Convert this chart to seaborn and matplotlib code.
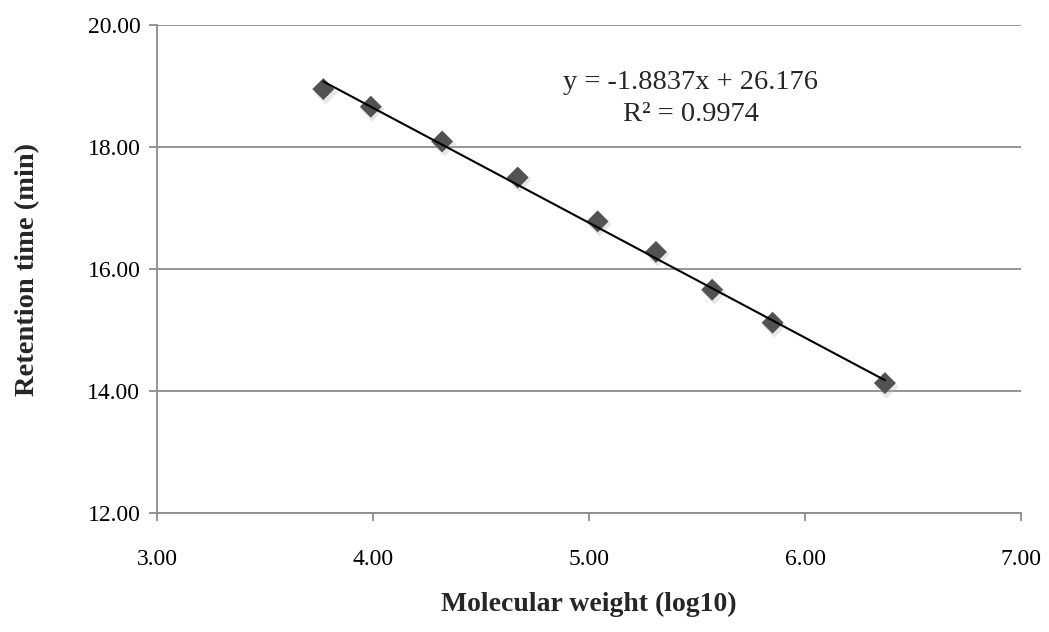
import numpy as np
import pandas as pd
import matplotlib
matplotlib.use("Agg")
import matplotlib.pyplot as plt
import matplotlib.transforms as mtransforms
import seaborn as sns

# Data
mw_log10 = [3.77, 3.99, 4.32, 4.67, 5.04, 5.31, 5.57, 5.85, 6.37]
retention_min = [18.95, 18.66, 18.09, 17.50, 16.78, 16.28, 15.66, 15.12, 14.13]
slope = -1.8837
intercept = 26.176
r_squared = 0.9974
x_ticks = [3.00, 4.00, 5.00, 6.00, 7.00]
y_ticks = [12.00, 14.00, 16.00, 18.00, 20.00]

df = pd.DataFrame({"x": mw_log10, "y": retention_min})
x_fit = np.array([min(mw_log10), max(mw_log10)])
fit_df = pd.DataFrame({"x": x_fit, "y": slope * x_fit + intercept})

sns.set_theme(style="white")
plt.rcParams["font.family"] = ["Liberation Serif", "DejaVu Serif"]

fig = plt.figure(figsize=(10.49, 6.32), dpi=100)
ax = fig.add_axes([157 / 1049, 1 - 513 / 632, (1021 - 157) / 1049, (513 - 25) / 632])

grid_c = "#8c8c8c"
ax.set_xlim(3, 7)
ax.set_ylim(12, 20)
ax.set_xticks(x_ticks)
ax.set_yticks(y_ticks)
ax.set_xticklabels([f"{v:.2f}" for v in x_ticks], fontsize=17)
ax.set_yticklabels([f"{v:.2f}" for v in y_ticks], fontsize=17)
ax.yaxis.grid(True, color=grid_c, linewidth=1.3)
ax.xaxis.grid(False)
ax.set_axisbelow(True)
for side in ["top", "right"]:
    ax.spines[side].set_visible(False)
for side in ["left", "bottom"]:
    ax.spines[side].set_color(grid_c)
    ax.spines[side].set_linewidth(1.3)
ax.tick_params(axis="both", which="major", direction="out", length=6, width=1.3,
               color=grid_c, labelcolor="black", bottom=True, left=True)
ax.tick_params(axis="x", pad=20)
ax.tick_params(axis="y", pad=6)

# soft shadow of markers
shadow = mtransforms.offset_copy(ax.transData, fig=fig, x=1.5, y=-2.5, units="dots")
ax.scatter(df["x"], df["y"], marker="D", s=150, color="#b0b0b0", alpha=0.3,
           linewidths=0, transform=shadow, zorder=2)
sns.scatterplot(data=df, x="x", y="y", marker="D", s=125, color="#525252",
                edgecolor="none", ax=ax, zorder=3)
sns.lineplot(data=fit_df, x="x", y="y", color="black", linewidth=1.5, ax=ax,
             zorder=4)

ax.text(5.47, 19.05, f"y = {slope}x + {intercept}", fontsize=20.5,
        ha="center", va="center")
ax.text(5.47, 18.54, f"R² = {r_squared}", fontsize=20.5, ha="center", va="center")

ax.set_xlabel("Molecular weight (log10)", fontsize=20, fontweight="bold", labelpad=16)
ax.set_ylabel("Retention time (min)", fontsize=20.5, fontweight="bold", labelpad=34)

fig.savefig("out.png", dpi=100)
